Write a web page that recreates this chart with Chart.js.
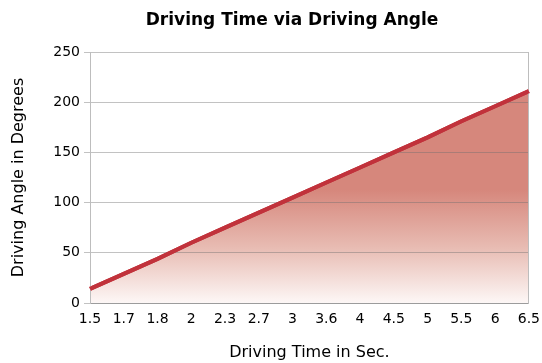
<!DOCTYPE html>
<html><head><meta charset="utf-8">
<script src="https://cdn.jsdelivr.net/npm/chart.js@4"></script>
<style>html,body{margin:0;padding:0;background:#fff}#wrap{width:542px;height:363px}</style>
</head><body><div id="wrap"><canvas id="c" width="542" height="363"></canvas></div>
<script>
const categories = ["1.5","1.7","1.8","2","2.3","2.7","3","3.6","4","4.5","5","5.5","6","6.5"];
const angleValues = [14, 29, 44, 60, 75, 90, 105, 120, 135, 150, 165, 181, 196, 211];
const yTicks = [0, 50, 100, 150, 200, 250];
const titleText = "Driving Time via Driving Angle";
const xTitle = "Driving Time in Sec.";
const yTitle = "Driving Angle in Degrees";

const FONT = "'DejaVu Sans', sans-serif";

const titlePlugin = {
  id: 'titleDraw',
  afterDraw(chart) {
    const c = chart.ctx;
    // redraw the series line above the grid layer
    const meta = chart.getDatasetMeta(0);
    const ca = chart.chartArea;
    c.save();
    c.beginPath();
    c.rect(ca.left - 3, ca.top - 3, ca.right - ca.left + 6, ca.bottom - ca.top + 6);
    c.clip();
    meta.dataset.draw(c, ca);
    c.restore();
    c.save();
    c.font = "bold 17px 'DejaVu Sans', sans-serif";
    c.fillStyle = '#000';
    c.textAlign = 'center';
    c.textBaseline = 'middle';
    c.fillText(titleText, 292, 21);
    c.restore();
  }
};

new Chart(document.getElementById('c'), {
  type: 'line',
  data: {
    labels: categories,
    datasets: [{
      data: angleValues,
      borderColor: '#c1323b',
      borderWidth: 4,
      pointRadius: 0,
      tension: 0,
      fill: 'origin',
      backgroundColor: (ctx) => {
        const ca = ctx.chart.chartArea;
        if (!ca) return 'rgba(214,133,122,0.8)';
        const g = ctx.chart.ctx.createLinearGradient(0, ca.top, 0, ca.bottom);
        g.addColorStop(0, '#d6877c');
        g.addColorStop(0.55, '#d6877c');
        g.addColorStop(0.78, '#e8bcb3');
        g.addColorStop(1, '#fdf7f6');
        return g;
      }
    }]
  },
  plugins: [titlePlugin],
  options: {
    responsive: false,
    animation: false,
    layout: { padding: { left: 9, right: 0, top: 52, bottom: 1 } },
    plugins: {
      legend: { display: false },
      tooltip: { enabled: false },
      title: { display: false }
    },
    scales: {
      x: {
        offset: false,
        grid: { display: false, drawOnChartArea: false, drawTicks: true, tickLength: 6, color: '#bdbdbd' },
        border: { display: true, color: '#bdbdbd', width: 1 },
        ticks: { color: '#000', font: { family: FONT, size: 14 }, maxRotation: 0, autoSkip: false, padding: 2 },
        title: { display: true, text: xTitle, color: '#000', font: { family: FONT, size: 16 }, padding: { top: 13, bottom: 0 } }
      },
      y: {
        min: 0, max: 250,
        afterBuildTicks: (s) => { s.ticks = yTicks.map(v => ({ value: v })); },
        afterFit: (s) => { s.width = 81; },
        grid: { z: 1, color: 'rgba(110,110,110,0.42)', tickLength: 6 },
        border: { display: true, color: '#bdbdbd', z: 1 },
        ticks: { color: '#000', font: { family: FONT, size: 14 }, padding: 4 },
        title: { display: true, text: yTitle, color: '#000', font: { family: FONT, size: 16 }, padding: { top: 0, bottom: 0 } }
      },
      yr: {
        position: 'right', min: 0, max: 250,
        grid: { display: false },
        border: { display: true, color: '#bdbdbd', z: 1 },
        ticks: { display: false }
      }
    }
  }
});
</script></body></html>
